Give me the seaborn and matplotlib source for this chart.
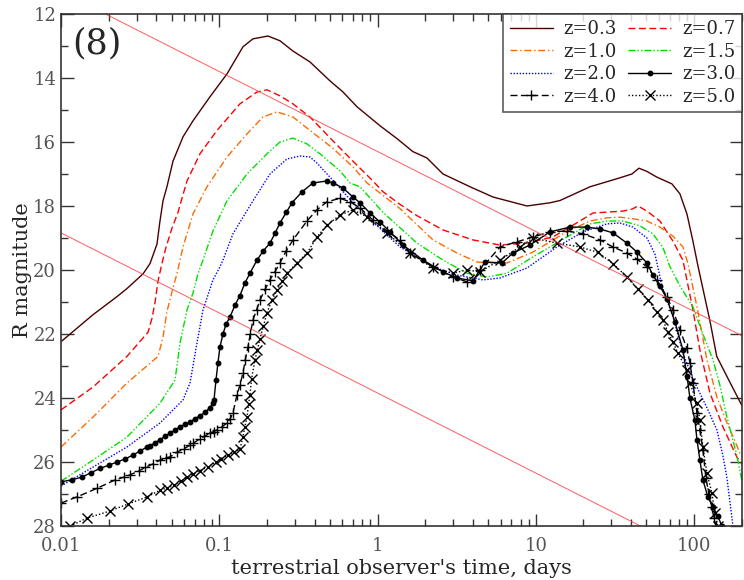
import numpy as np
import pandas as pd
import matplotlib
matplotlib.use("Agg")
import matplotlib.pyplot as plt
from matplotlib.ticker import FuncFormatter, MultipleLocator, LogLocator
import seaborn as sns

# light curves: time (days), R magnitude
t_03 = [0.01, 0.0159, 0.0226, 0.0261, 0.033, 0.0365, 0.0404, 0.0422, 0.0441, 0.0467, 0.051, 0.059,
        0.0682, 0.0873, 0.112, 0.141, 0.163, 0.203, 0.242, 0.292, 0.374, 0.5, 0.605, 0.741, 1.04,
        1.33, 1.67, 2.05, 2.59, 3.84, 5.36, 8.79, 12.3, 14.2, 22.0, 34.0, 40.5, 44.8, 50.3, 58.2,
        72.4, 81.3, 90.1, 98.3, 106, 126, 139, 168, 206]
m_03 = [22.24, 21.4, 20.83, 20.58, 20.12, 19.8, 19.19, 18.47, 17.84, 17.4, 16.6, 15.84, 15.34, 14.59,
        13.87, 13.03, 12.78, 12.69, 12.84, 13.16, 13.5, 14.09, 14.44, 14.9, 15.5, 15.9, 16.3, 16.5,
        17.0, 17.4, 17.72, 18.0, 17.9, 17.83, 17.4, 17.12, 17.0, 16.82, 16.92, 17.1, 17.31, 17.62,
        18.25, 19.1, 19.9, 21.6, 22.7, 23.5, 24.35]

t_07 = [0.01, 0.0159, 0.0261, 0.0355, 0.0376, 0.0393, 0.041, 0.0434, 0.046, 0.0502, 0.0548, 0.0625,
        0.0755, 0.0967, 0.135, 0.173, 0.2, 0.242, 0.292, 0.374, 0.523, 0.699, 0.935, 1.08, 1.385,
        1.77, 2.59, 4.0, 5.93, 8.79, 12.8, 17.15, 22.95, 35.5, 40.5, 44.2, 50.3, 60.8, 73.5, 85.0,
        98.3, 108.8, 125.8, 152, 186, 206]
m_07 = [24.37, 23.66, 22.7, 21.94, 21.5, 21.0, 20.35, 19.8, 19.3, 18.7, 18.2, 17.22, 16.37, 15.64,
        14.81, 14.44, 14.37, 14.56, 14.81, 15.22, 15.97, 16.6, 17.22, 17.55, 17.95, 18.3, 18.75,
        19.06, 19.22, 19.16, 18.97, 18.6, 18.22, 18.16, 18.1, 18.0, 18.16, 18.47, 19.1, 19.7, 21.25,
        22.5, 23.84, 24.9, 25.84, 26.15]

t_10 = [0.01, 0.0159, 0.0261, 0.041, 0.0441, 0.0467, 0.051, 0.0541, 0.059, 0.0682, 0.0836, 0.1118,
        0.1496, 0.1888, 0.2314, 0.2922, 0.3741, 0.5228, 0.6994, 0.857, 1.385, 2.239, 3.174, 4.245,
        5.129, 6.57, 9.587, 15.72, 21.97, 28.13, 33.99, 41.06, 50.31, 60.81, 73.47, 84.99, 91.4,
        104.2, 120.4, 139.3, 161.2, 175.9, 194.7, 206]
m_10 = [25.53, 24.6, 23.53, 22.7, 22.1, 21.3, 20.56, 20.1, 19.28, 18.25, 17.4, 16.47, 15.75, 15.22,
        15.06, 15.22, 15.64, 16.2, 16.78, 17.28, 18.08, 19.06, 19.47, 19.75, 19.78, 19.78, 19.44,
        18.8, 18.47, 18.37, 18.35, 18.4, 18.47, 18.66, 18.94, 19.28, 19.8, 21.15, 22.8, 23.97,
        24.78, 25.2, 25.72, 25.85]

t_15 = [0.01, 0.0159, 0.0261, 0.0422, 0.0525, 0.0565, 0.0625, 0.0682, 0.0733, 0.0789, 0.0912,
        0.1118, 0.1496, 0.2001, 0.2418, 0.2922, 0.3581, 0.4326, 0.5788, 0.6695, 0.7744, 1.082,
        1.774, 2.589, 3.671, 4.911, 6.57, 9.587, 15.72, 21.97, 28.13, 35.51, 45.46, 54.93, 63.53,
        70.35, 81.36, 98.26, 113.6, 131.4, 145.5, 161.2, 186.4, 206]
m_15 = [26.6, 25.94, 25.22, 24.16, 23.44, 22.28, 21.25, 20.72, 20.12, 19.69, 18.78, 17.84, 17.0,
        16.37, 16.0, 15.88, 16.06, 16.37, 16.9, 17.28, 17.4, 18.2, 19.16, 19.69, 20.1, 20.22, 20.1,
        19.59, 18.97, 18.56, 18.47, 18.47, 18.62, 18.87, 19.3, 19.9, 20.5, 21.15, 22.0, 22.8, 23.6,
        24.6, 25.8, 26.88]

t_20 = [0.01, 0.0159, 0.0261, 0.0422, 0.059, 0.0653, 0.0723, 0.0789, 0.0912, 0.101, 0.1055, 0.122,
        0.1633, 0.2091, 0.2677, 0.3235, 0.3741, 0.4142, 0.5228, 0.6994, 0.9352, 1.385, 2.239, 3.174,
        4.634, 5.933, 8.787, 13.59, 19.84, 28.13, 33.99, 41.06, 50.31, 56.55, 62.61, 73.47, 84.99,
        98.26, 120.4, 139.3, 152.0, 161.2, 175.9]
m_20 = [26.75, 26.16, 25.53, 24.78, 24.06, 23.53, 22.28, 21.25, 20.31, 19.9, 19.69, 18.87, 17.84,
        17.0, 16.53, 16.44, 16.47, 16.66, 17.2, 17.9, 18.5, 19.28, 19.9, 20.16, 20.31, 20.25, 19.94,
        19.28, 18.81, 18.56, 18.53, 18.66, 19.0, 19.5, 20.5, 21.46, 22.6, 23.4, 24.3, 25.0, 25.8,
        26.5, 28.0]

t_30 = [0.01, 0.0118, 0.01358, 0.0155, 0.01764, 0.02, 0.0226, 0.0255, 0.0285, 0.0315, 0.0349,
        0.0365, 0.0393, 0.0422, 0.0454, 0.0488, 0.0525, 0.0565, 0.0608, 0.0653, 0.0702, 0.0755,
        0.0812, 0.0873, 0.0912, 0.0926, 0.0953, 0.0981, 0.101, 0.1055, 0.1102, 0.1168, 0.1256,
        0.135, 0.1453, 0.1563, 0.173, 0.19, 0.2091, 0.225, 0.2418, 0.265, 0.288, 0.333, 0.3908,
        0.479, 0.5228, 0.6047, 0.6994, 0.7744, 0.8954, 1.036, 1.198, 1.447, 1.936, 2.589, 3.174,
        4.005, 4.771, 6.108, 7.166, 9.179, 12.27, 16.42, 21.03, 25.41, 30.69, 37.62, 43.52, 50.31,
        54.93, 60.81, 67.34, 75.64, 84.99, 90.07, 94.1, 101.2, 104.2, 108.8, 113.6, 122.2, 131.4,
        141.3, 149.8]
m_30 = [26.62, 26.55, 26.47, 26.33, 26.2, 26.1, 26.0, 25.9, 25.78, 25.66, 25.53, 25.5, 25.4, 25.3,
        25.2, 25.1, 25.0, 24.9, 24.82, 24.75, 24.65, 24.55, 24.45, 24.3, 24.15, 24.06, 23.44, 22.9,
        22.4, 22.0, 21.7, 21.47, 21.1, 20.8, 20.4, 20.1, 19.69, 19.4, 19.16, 18.85, 18.53, 18.2,
        17.9, 17.56, 17.28, 17.22, 17.28, 17.44, 17.72, 17.9, 18.22, 18.5, 18.81, 19.22, 19.69,
        20.06, 20.25, 20.34, 19.75, 19.78, 19.47, 19.22, 18.81, 18.66, 18.66, 18.72, 18.84, 19.16,
        19.44, 19.78, 20.16, 20.5, 20.9, 21.62, 22.5, 23.3, 24.0, 24.7, 25.3, 25.94, 26.56, 27.09,
        27.4, 27.7, 28.0]

t_40 = [0.01, 0.01262, 0.01688, 0.02193, 0.025, 0.0273, 0.031, 0.034, 0.038, 0.0422, 0.046, 0.0488,
        0.0541, 0.06, 0.065, 0.0682, 0.075, 0.08, 0.0873, 0.092, 0.0967, 0.104, 0.1118, 0.117, 0.122,
        0.1293, 0.135, 0.1411, 0.146, 0.1518, 0.157, 0.1633, 0.172, 0.1807, 0.195, 0.2091, 0.225,
        0.2418, 0.265, 0.2922, 0.3581, 0.4142, 0.479, 0.5788, 0.6695, 0.7744, 0.9352, 1.147, 1.385,
        1.602, 2.239, 2.995, 3.671, 4.436, 5.933, 7.597, 9.587, 12.27, 15.72, 19.84, 25.41, 30.69,
        37.62, 43.52, 50.31, 58.21, 67.34, 73.47, 81.36, 90.07, 94.1, 98.26, 104.2, 108.8, 113.6,
        118.7, 124.0, 129.5, 133.3, 137.3]
m_40 = [27.28, 27.09, 26.82, 26.56, 26.47, 26.4, 26.28, 26.17, 26.06, 25.94, 25.87, 25.84, 25.69,
        25.58, 25.48, 25.41, 25.29, 25.2, 25.1, 25.05, 25.0, 24.9, 24.78, 24.65, 24.47, 23.9, 23.6,
        23.22, 22.8, 22.4, 22.0, 21.56, 21.25, 20.94, 20.6, 20.3, 20.05, 19.78, 19.4, 19.06, 18.47,
        18.12, 17.87, 17.76, 17.87, 18.06, 18.44, 18.78, 19.06, 19.47, 19.9, 20.22, 20.37, 20.0,
        19.28, 19.12, 18.97, 18.81, 18.78, 18.87, 19.06, 19.28, 19.47, 19.66, 19.9, 20.31, 20.84,
        21.25, 21.87, 22.45, 22.9, 23.53, 24.47, 25.0, 25.62, 26.5, 27.0, 27.4, 27.75, 28.0]

t_50 = [0.0114, 0.0146, 0.0204, 0.0265, 0.0349, 0.0422, 0.0467, 0.052, 0.057, 0.0625, 0.068, 0.075,
        0.0848, 0.095, 0.103, 0.1135, 0.123, 0.135, 0.1411, 0.145, 0.1496, 0.153, 0.1563, 0.16,
        0.1681, 0.174, 0.1807, 0.19, 0.2001, 0.215, 0.2314, 0.25, 0.2677, 0.3097, 0.3581, 0.4142,
        0.479, 0.5788, 0.6994, 0.857, 1.147, 1.602, 2.239, 2.995, 3.671, 4.436, 5.933, 7.935, 9.587,
        13.59, 18.99, 24.68, 30.69, 37.62, 44.16, 51.05, 58.21, 63.53, 68.32, 73.47, 79.02, 90.07,
        94.1, 104.2, 108.8, 113.6, 120.4, 129.5, 135.3, 141.3]
m_50 = [28.0, 27.75, 27.53, 27.31, 27.09, 26.88, 26.81, 26.72, 26.6, 26.48, 26.38, 26.27, 26.15,
        26.0, 25.9, 25.78, 25.7, 25.6, 25.22, 24.9, 24.6, 24.2, 23.9, 23.4, 22.81, 22.5, 22.15, 21.75,
        21.34, 20.95, 20.62, 20.35, 20.1, 19.78, 19.47, 18.97, 18.6, 18.28, 18.12, 18.34, 18.84,
        19.47, 19.94, 20.1, 20.0, 20.06, 19.69, 19.28, 19.0, 19.16, 19.28, 19.45, 19.8, 20.22, 20.6,
        20.94, 21.31, 21.56, 21.94, 22.25, 22.6, 23.12, 23.53, 24.16, 24.69, 25.53, 26.34, 26.97,
        27.59, 28.0]

# the two thin reference lines (end points)
ref_t = [0.01, 200]
ref1_m = [11.3, 22.05]
ref2_m = [18.84, 29.6]

series = [
    ("z=0.3", t_03, m_03, "#4a0000", "-", None),
    ("z=0.7", t_07, m_07, "#ff0000", (0, (5, 2.5)), None),
    ("z=1.0", t_10, m_10, "#ff6a00", (0, (5, 2, 1, 2)), None),
    ("z=1.5", t_15, m_15, "#00e000", (0, (5, 1.5, 1, 1.5, 1, 1.5)), None),
    ("z=2.0", t_20, m_20, "#0000ff", (0, (1, 1.2)), None),
    ("z=3.0", t_30, m_30, "black", "-", "o"),
    ("z=4.0", t_40, m_40, "black", (0, (5, 2.5)), "+"),
    ("z=5.0", t_50, m_50, "black", (0, (1, 1.5)), "x"),
]

sns.set_style("ticks")
plt.rcParams["font.family"] = ["DejaVu Serif"]

fig, ax = plt.subplots(figsize=(7.44, 5.80), dpi=100)

for lab, t, m, col, ls, mk in series:
    df = pd.DataFrame({"t": t, "m": m})
    msize = 3.2 if mk == "o" else 7
    sns.lineplot(data=df, x="t", y="m", ax=ax, color=col, linestyle=ls, linewidth=1.0,
                 marker=mk, markersize=msize, markeredgewidth=1.0, markeredgecolor=col,
                 estimator=None, sort=False, label=lab)

ax.plot(ref_t, ref1_m, color="#ff4040", lw=0.7, alpha=0.85)
ax.plot(ref_t, ref2_m, color="#ff4040", lw=0.7, alpha=0.85)

ax.set_xscale("log")
ax.set_xlim(0.01, 200)
ax.set_ylim(28, 12)
ax.yaxis.set_major_locator(MultipleLocator(2))
ax.yaxis.set_minor_locator(MultipleLocator(1))
ax.xaxis.set_major_locator(LogLocator(base=10))
ax.xaxis.set_minor_locator(LogLocator(base=10, subs=np.arange(2, 10)))
ax.xaxis.set_major_formatter(FuncFormatter(lambda v, p: "%g" % v))

ax.tick_params(which="both", direction="in", top=True, right=True, labelsize=13,
               labelcolor="#555555", color="#333333")
ax.tick_params(which="major", length=9, width=1)
ax.tick_params(which="minor", length=5, width=1)
ax.tick_params(axis="x", pad=8)
for s in ax.spines.values():
    s.set_color("#333333")
    s.set_linewidth(1.2)

ax.set_xlabel("terrestrial observer's time, days", fontsize=15, labelpad=3)
ax.set_ylabel("R magnitude", fontsize=15, labelpad=1)
ax.text(0.016, 0.975, "(8)", transform=ax.transAxes, fontsize=25, va="top", ha="left")

h, l = ax.get_legend_handles_labels()
order = [0, 2, 4, 6, 1, 3, 5, 7]
leg = ax.legend([h[i] for i in order], [l[i] for i in order], ncol=2, loc="upper right",
                fontsize=13, frameon=True, fancybox=False, borderaxespad=0, handlelength=2.4,
                columnspacing=0.6, handletextpad=0.6, labelspacing=0.25, borderpad=0.35)
leg.get_frame().set_edgecolor("#333333")
leg.get_frame().set_linewidth(1.2)

plt.subplots_adjust(left=0.082, right=0.997, top=0.976, bottom=0.093)
plt.savefig("out.png", dpi=100)
